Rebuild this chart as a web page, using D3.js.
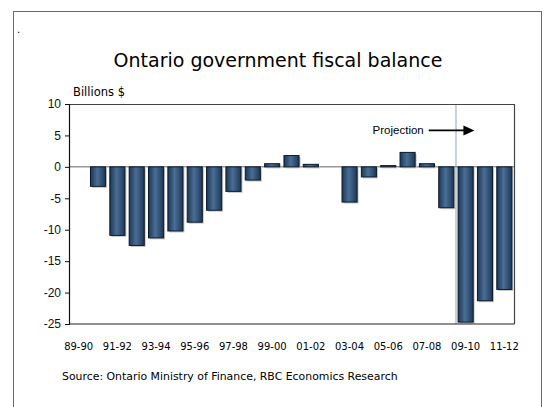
<!DOCTYPE html>
<html>
<head>
<meta charset="utf-8">
<script src="https://cdn.jsdelivr.net/npm/d3@7"></script>
<style>
  body { margin: 0; background: #fff; }
  svg { display: block; }
</style>
</head>
<body>
<svg id="chart" width="546" height="407"></svg>
<script>
// fiscal years, Ontario
const years = ['89-90', '90-91', '91-92', '92-93', '93-94', '94-95', '95-96', '96-97',
    '97-98', '98-99', '99-00', '00-01', '01-02', '02-03', '03-04', '04-05', '05-06',
    '06-07', '07-08', '08-09', '09-10', '10-11', '11-12']
// balance, billions $
const balance = [0, -3.1, -10.9, -12.5, -11.3, -10.2, -8.8, -6.9, -3.9, -2.1, 0.5, 1.8,
    0.4, 0, -5.6, -1.6, 0.2, 2.3, 0.5, -6.5, -24.7, -21.3, -19.5]
const yTicks = [-25, -20, -15, -10, -5, 0, 5, 10]
const xLabels = years.filter((d, i) => i % 2 === 0)
const firstProjection = '09-10'

const svg = d3.select('#chart')
const plot = { left: 69, right: 514, top: 104, bottom: 324 }

const x = d3.scaleBand().domain(years)
    .range([plot.left, plot.right])
    .paddingInner(0.22).paddingOuter(0.11)
const y = d3.scaleLinear().domain([-25, 10]).range([plot.bottom, plot.top])

// outer frame
svg.append('rect')
    .attr('x', 13.5).attr('y', 11.5)
    .attr('width', 528).attr('height', 420)
    .attr('fill', 'none').attr('stroke', '#6a6a6a')

svg.append('text')
    .attr('x', 17).attr('y', 33)
    .attr('font-family', 'DejaVu Sans').attr('font-size', 10)
    .text('.')

svg.append('text')
    .attr('x', 278).attr('y', 67)
    .attr('text-anchor', 'middle')
    .attr('font-family', 'DejaVu Sans').attr('font-size', 19)
    .text('Ontario government fiscal balance')

svg.append('text')
    .attr('x', 73).attr('y', 96)
    .attr('font-family', 'DejaVu Sans').attr('font-size', 11.5)
    .text('Billions $')

const defs = svg.append('defs')
const grad = defs.append('linearGradient').attr('id', 'barFill')
    .attr('x1', '0%').attr('x2', '100%').attr('y1', '0%').attr('y2', '0%')
grad.append('stop').attr('offset', '0%').attr('stop-color', '#1d3757')
grad.append('stop').attr('offset', '45%').attr('stop-color', '#4a6e95')
grad.append('stop').attr('offset', '100%').attr('stop-color', '#1d3757')

// plot box top/right
svg.append('path')
    .attr('d', `M${plot.left},${plot.top + 0.5}H${plot.right + 0.5}V${plot.bottom}`)
    .attr('fill', 'none').attr('stroke', '#444').attr('stroke-width', 1.2)

// projection divider
const divX = x(firstProjection) - x.step() * x.paddingInner() / 2
svg.append('line')
    .attr('x1', divX).attr('x2', divX)
    .attr('y1', plot.top + 1).attr('y2', plot.bottom)
    .attr('stroke', '#c9d0d8').attr('stroke-width', 2)

// zero line
svg.append('line')
    .attr('x1', plot.left).attr('x2', plot.right)
    .attr('y1', y(0)).attr('y2', y(0))
    .attr('stroke', '#666').attr('stroke-width', 1)

const bars = svg.append('g')
bars.selectAll('rect.shadow')
    .data(years)
    .join('rect')
    .attr('class', 'shadow')
    .attr('x', d => x(d) + 1.5)
    .attr('y', (d, i) => Math.min(y(0), y(balance[i])) + 1.5)
    .attr('width', x.bandwidth())
    .attr('height', (d, i) => Math.abs(y(balance[i]) - y(0)))
    .attr('fill', '#c4c4c4')

bars.selectAll('rect.bar')
    .data(years)
    .join('rect')
    .attr('class', 'bar')
    .attr('x', d => x(d))
    .attr('y', (d, i) => Math.min(y(0), y(balance[i])))
    .attr('width', x.bandwidth())
    .attr('height', (d, i) => Math.abs(y(balance[i]) - y(0)))
    .attr('fill', 'url(#barFill)')
    .attr('stroke', '#0b1a2b').attr('stroke-width', 1)

// y axis
const yAxis = svg.append('g')
    .attr('transform', `translate(${plot.left},0)`)
    .call(d3.axisLeft(y).tickValues(yTicks).tickSize(4).tickPadding(4)
        .tickFormat(d => String(d)))
yAxis.select('.domain').attr('stroke', '#111').attr('stroke-width', 1.2)
yAxis.selectAll('.tick line').attr('stroke', '#111')
yAxis.selectAll('.tick text')
    .attr('font-family', 'Liberation Sans, Arial').attr('font-size', 12)
    .attr('fill', '#111')

// bottom axis line at -25
svg.append('line')
    .attr('x1', plot.left).attr('x2', plot.right + 0.5)
    .attr('y1', plot.bottom).attr('y2', plot.bottom)
    .attr('stroke', '#222').attr('stroke-width', 1.2)

svg.append('g').selectAll('text')
    .data(xLabels)
    .join('text')
    .attr('x', d => x(d) + x.bandwidth() / 2)
    .attr('y', 350)
    .attr('text-anchor', 'middle')
    .attr('font-family', 'DejaVu Sans').attr('font-size', 10)
    .text(d => d)

// projection annotation
const annY = y(5.8)
svg.append('text')
    .attr('x', x('08-09') - 15).attr('y', annY + 4)
    .attr('text-anchor', 'end')
    .attr('font-family', 'Liberation Sans, Arial').attr('font-size', 11.5)
    .text('Projection')
svg.append('line')
    .attr('x1', x('08-09') - 10).attr('x2', x('10-11') - 13)
    .attr('y1', annY).attr('y2', annY)
    .attr('stroke', '#000').attr('stroke-width', 1.6)
svg.append('path')
    .attr('d', d3.line()([[x('10-11') - 14, annY - 5], [x('10-11') - 3, annY], [x('10-11') - 14, annY + 5]]) + 'Z')
    .attr('fill', '#000')

svg.append('text')
    .attr('x', 62).attr('y', 380)
    .attr('font-family', 'DejaVu Sans').attr('font-size', 10.9)
    .text('Source: Ontario Ministry of Finance, RBC Economics Research')
</script>
</body>
</html>
